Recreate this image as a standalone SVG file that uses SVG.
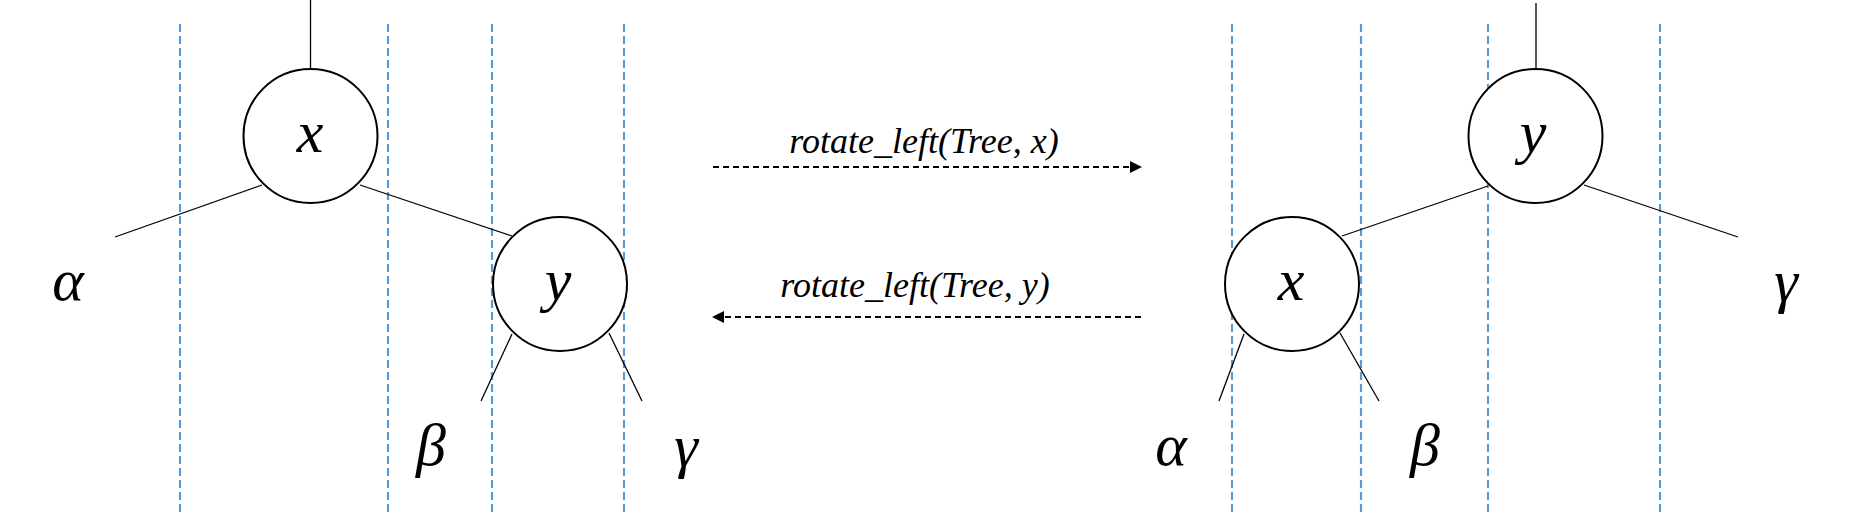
<svg xmlns="http://www.w3.org/2000/svg" width="1851" height="516" viewBox="0 0 1851 516">
<defs>
<style>
.guide{stroke:#5B9BD5;stroke-width:2.2;stroke-dasharray:8,4;fill:none}
.edge{stroke:#000;stroke-width:1.3;fill:none}
.node{fill:#fff;stroke:#000;stroke-width:2}
.lbl{font-family:'Liberation Serif','Times New Roman',serif;font-style:italic;font-size:60px;fill:#000;text-anchor:middle}
.op{font-family:'Liberation Serif','Times New Roman',serif;font-style:italic;font-size:36px;fill:#000;text-anchor:middle}
.arr{stroke:#000;stroke-width:1.8;stroke-dasharray:6,4;fill:none}
</style>
<marker id="ah" viewBox="0 0 12 12" refX="11" refY="6" markerWidth="12" markerHeight="12" markerUnits="userSpaceOnUse" orient="auto">
<path d="M0,0 L12,6 L0,12 Z" fill="#000"/>
</marker>
</defs>
<rect width="1851" height="516" fill="#fff"/>
<g id="guides">
<line class="guide" x1="180" y1="24" x2="180" y2="516"/>
<line class="guide" x1="388" y1="24" x2="388" y2="516"/>
<line class="guide" x1="492" y1="24" x2="492" y2="516"/>
<line class="guide" x1="624" y1="24" x2="624" y2="516"/>
<line class="guide" x1="1232" y1="24" x2="1232" y2="516"/>
<line class="guide" x1="1361" y1="24" x2="1361" y2="516"/>
<line class="guide" x1="1488" y1="24" x2="1488" y2="516"/>
<line class="guide" x1="1660" y1="24" x2="1660" y2="516"/>
</g>
<g id="connectors">
<line class="edge" x1="310.5" y1="0" x2="310.5" y2="69"/>
<line class="edge" x1="262" y1="185" x2="115" y2="237"/>
<line class="edge" x1="360" y1="185" x2="512" y2="236"/>
<line class="edge" x1="512" y1="334" x2="481" y2="401"/>
<line class="edge" x1="609" y1="333" x2="642" y2="401"/>
<line class="edge" x1="1536" y1="3" x2="1536" y2="69"/>
<line class="edge" x1="1488" y1="186" x2="1342" y2="236"/>
<line class="edge" x1="1584" y1="185" x2="1738" y2="237"/>
<line class="edge" x1="1244" y1="334" x2="1219" y2="401"/>
<line class="edge" x1="1340" y1="333" x2="1379" y2="401"/>
<line class="arr" x1="713" y1="167" x2="1141" y2="167" marker-end="url(#ah)"/>
<line class="arr" x1="1141" y1="317" x2="713" y2="317" marker-end="url(#ah)"/>
</g>
<g id="node-x-left">
<circle class="node" cx="310.5" cy="136" r="67"/>
<text class="lbl" x="310" y="152">x</text>
</g>
<g id="node-y-left">
<circle class="node" cx="560" cy="284" r="67"/>
<text class="lbl" x="558" y="300">y</text>
</g>
<g id="node-y-right">
<circle class="node" cx="1535.5" cy="136" r="67"/>
<text class="lbl" x="1533" y="152">y</text>
</g>
<g id="node-x-right">
<circle class="node" cx="1292" cy="284" r="67"/>
<text class="lbl" x="1291" y="300">x</text>
</g>
<g id="leaves">
<text class="lbl" x="68" y="300">α</text>
<text class="lbl" x="431" y="465">β</text>
<text class="lbl" x="686" y="466">γ</text>
<text class="lbl" x="1171" y="465">α</text>
<text class="lbl" x="1425" y="465">β</text>
<text class="lbl" x="1786" y="301">γ</text>
</g>
<g id="operations">
<text class="op" x="924" y="153">rotate_left(Tree, x)</text>
<text class="op" x="915" y="297">rotate_left(Tree, y)</text>
</g>
</svg>
